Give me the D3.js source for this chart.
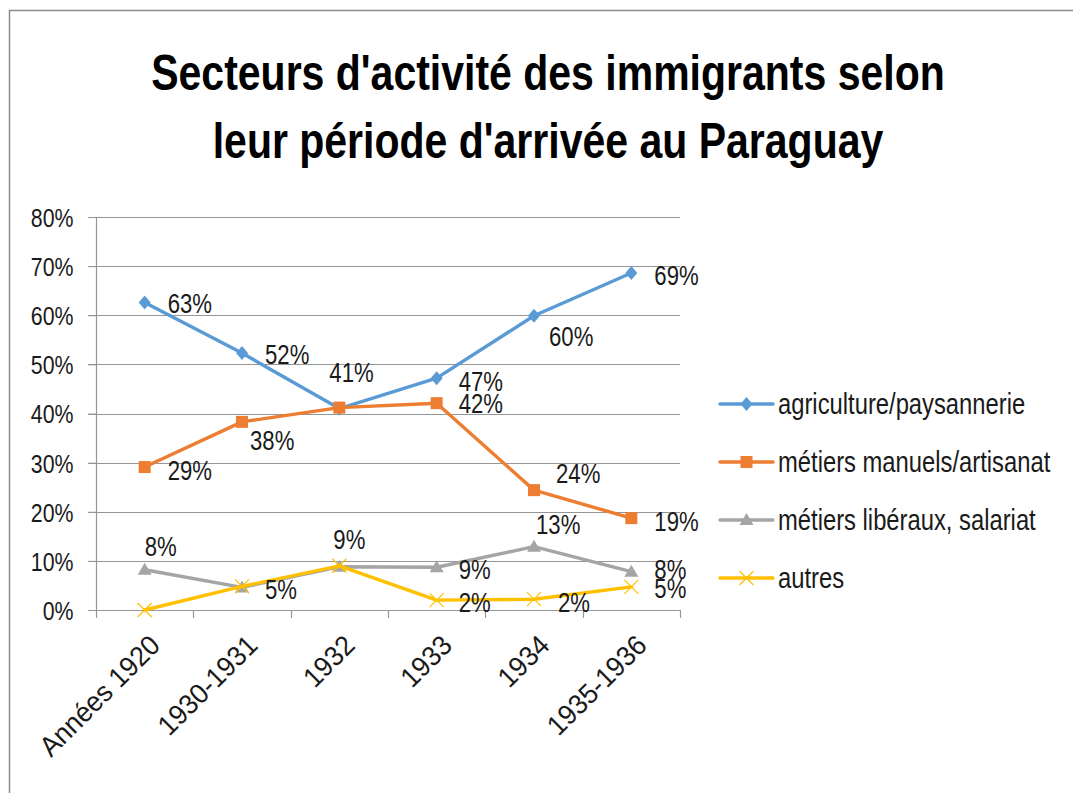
<!DOCTYPE html>
<html>
<head>
<meta charset="utf-8">
<script src="https://cdn.jsdelivr.net/npm/d3@7/dist/d3.min.js"></script>
<style>
  html, body { margin: 0; padding: 0; background: #fff; }
  svg { display: block; }
  text { font-family: "Liberation Sans", Arial, sans-serif; fill: #1a1a1a; }
</style>
</head>
<body>
<svg id="chart" width="1073" height="793"></svg>
<script>
// ---- data ----
const titleLines = ["Secteurs d'activité des immigrants selon", "leur période d'arrivée au Paraguay"];
const categories = ["Années 1920", "1930-1931", "1932", "1933", "1934", "1935-1936"];
const seriesNames = ["agriculture/paysannerie", "métiers manuels/artisanat", "métiers libéraux, salariat", "autres"];
const agriculture = [0.626, 0.523, 0.410, 0.472, 0.599, 0.686];
const manuels     = [0.291, 0.383, 0.412, 0.421, 0.244, 0.187];
const liberaux    = [0.082, 0.046, 0.088, 0.087, 0.129, 0.078];
const autres      = [0.000, 0.048, 0.090, 0.020, 0.022, 0.047];
const yTicks = [0, 0.1, 0.2, 0.3, 0.4, 0.5, 0.6, 0.7, 0.8];
// which data labels are shown (false = hidden because of overlap)
const showLabel = [
  [true, true, true, true, true, true],
  [true, true, false, true, true, true],
  [true, true, true, true, true, true],
  [false, false, false, true, true, true]
];

// ---- layout / style ----
const colors = ["#5B9BD5", "#ED7D31", "#A5A5A5", "#FFC000"];
const markers = ["diamond", "square", "triangle", "cross"];
// label offsets [dx, dy] relative to the point (text-anchor start, vertical centre)
const labelOffsets = [
  [[23, 1], [23, 1], [-10, -36], [22, 3], [15, 21], [23, 2]],
  [[23, 3], [8, 18], [0, 0], [22, 0], [22, -17], [23, 3]],
  [[0, -23], [23, 2], [-6, -27], [22, 2], [2, -22], [23, -2]],
  [[0, 0], [0, 0], [0, 0], [22, 2], [24, 3], [23, 1]]
];
const condense = 0.82;

const svg = d3.select("#chart");
const allSeries = [agriculture, manuels, liberaux, autres];

// outer frame
svg.append("path").attr("d", "M9.5,793 L9.5,10.5 L1073,10.5")
  .attr("fill", "none").attr("stroke", "#8a8a8a").attr("stroke-width", 1.5);

// title
svg.append("g").selectAll("text").data(titleLines).join("text")
  .attr("x", 548).attr("y", (d, i) => 90 + i * 68)
  .attr("text-anchor", "middle")
  .style("font-weight", "bold").style("font-size", "50px").style("fill", "#000")
  .text(d => d);

const x = d3.scaleBand().domain(categories).range([96, 680]);
const y = d3.scaleLinear().domain([0, 0.8]).range([610, 217]);
const cx = c => x(c) + x.bandwidth() / 2;

const gridColor = "#969696";

// gridlines
svg.append("g").selectAll("line").data(yTicks).join("line")
  .attr("x1", 88).attr("x2", 680)
  .attr("y1", d => Math.round(y(d)) + 0.5).attr("y2", d => Math.round(y(d)) + 0.5)
  .attr("stroke", gridColor).attr("stroke-width", 1.2);

// y axis
const yAxis = d3.axisLeft(y).tickValues(yTicks).tickFormat(d3.format(".0%")).tickSize(8).tickPadding(15);
const gy = svg.append("g").attr("transform", "translate(96.5,0)").call(yAxis);
gy.select(".domain").attr("stroke", gridColor).attr("stroke-width", 1.2).attr("d", `M0,${y(0.8)}V${y(0)}`);
gy.selectAll(".tick line").attr("stroke", gridColor);
gy.selectAll(".tick text").style("font-size", "26px").style("fill", "#1a1a1a")
  .attr("font-family", null).attr("dy", "0.36em");

// x axis ticks at band boundaries
const boundaries = categories.map(c => x(c)).concat([x(categories[categories.length - 1]) + x.bandwidth()]);
svg.append("g").selectAll("line").data(boundaries).join("line")
  .attr("x1", d => Math.round(d) + 0.5).attr("x2", d => Math.round(d) + 0.5)
  .attr("y1", y(0)).attr("y2", y(0) + 8)
  .attr("stroke", gridColor).attr("stroke-width", 1.2);

// x labels
svg.append("g").selectAll("text").data(categories).join("text")
  .attr("class", "xlabel")
  .attr("transform", d => `translate(${cx(d) + 10},${y(0) + 30}) rotate(-45)`)
  .attr("text-anchor", "end").attr("dy", "0.36em")
  .style("font-size", "28px")
  .text(d => d);

// marker drawing
function drawMarker(g, type, color, px, py) {
  if (type === "diamond") {
    g.append("path").attr("d", `M${px},${py - 7}L${px + 6},${py}L${px},${py + 7}L${px - 6},${py}Z`).attr("fill", color);
  } else if (type === "square") {
    g.append("rect").attr("x", px - 6).attr("y", py - 6).attr("width", 12).attr("height", 12).attr("fill", color);
  } else if (type === "triangle") {
    g.append("path").attr("d", `M${px},${py - 7}L${px + 7},${py + 5}L${px - 7},${py + 5}Z`).attr("fill", color);
  } else {
    g.append("path").attr("d", `M${px - 7},${py - 7}L${px + 7},${py + 7}M${px + 7},${py - 7}L${px - 7},${py + 7}`)
      .attr("stroke", color).attr("stroke-width", 1.2).attr("fill", "none");
  }
}

const line = d3.line().x((d, i) => cx(categories[i])).y(d => y(d));

// draw series
allSeries.forEach((vals, s) => {
  const g = svg.append("g");
  g.append("path").datum(vals).attr("d", line)
    .attr("fill", "none").attr("stroke", colors[s]).attr("stroke-width", 3.4)
    .attr("stroke-linejoin", "round").attr("stroke-linecap", "round");
  vals.forEach((v, i) => drawMarker(g, markers[s], colors[s], cx(categories[i]), y(v)));
});

// data labels
allSeries.forEach((vals, s) => {
  const pts = vals.map((v, i) => ({ v, i })).filter(d => showLabel[s][d.i]);
  svg.append("g").selectAll("text").data(pts).join("text")
    .attr("x", d => cx(categories[d.i]) + labelOffsets[s][d.i][0])
    .attr("y", d => y(d.v) + labelOffsets[s][d.i][1])
    .attr("dy", "0.36em")
    .style("font-size", "27px")
    .text(d => d3.format(".0%")(d.v));
});

// legend
const legend = svg.append("g");
seriesNames.forEach((name, s) => {
  const ly = 404 + s * 58;
  legend.append("line").attr("x1", 720).attr("x2", 773).attr("y1", ly).attr("y2", ly)
    .attr("stroke", colors[s]).attr("stroke-width", 3.4).attr("stroke-linecap", "round");
  drawMarker(legend, markers[s], colors[s], 746.5, ly);
  legend.append("text").attr("x", 778).attr("y", ly).attr("dy", "0.36em")
    .style("font-size", "29px").text(name);
});

// condense text horizontally (narrow face look); rotated labels stay wider
svg.selectAll("text").each(function () {
  const len = this.getComputedTextLength();
  const k = this.classList.contains("xlabel") ? 0.95 : condense;
  d3.select(this).attr("textLength", len * k).attr("lengthAdjust", "spacingAndGlyphs");
});
</script>
</body>
</html>
